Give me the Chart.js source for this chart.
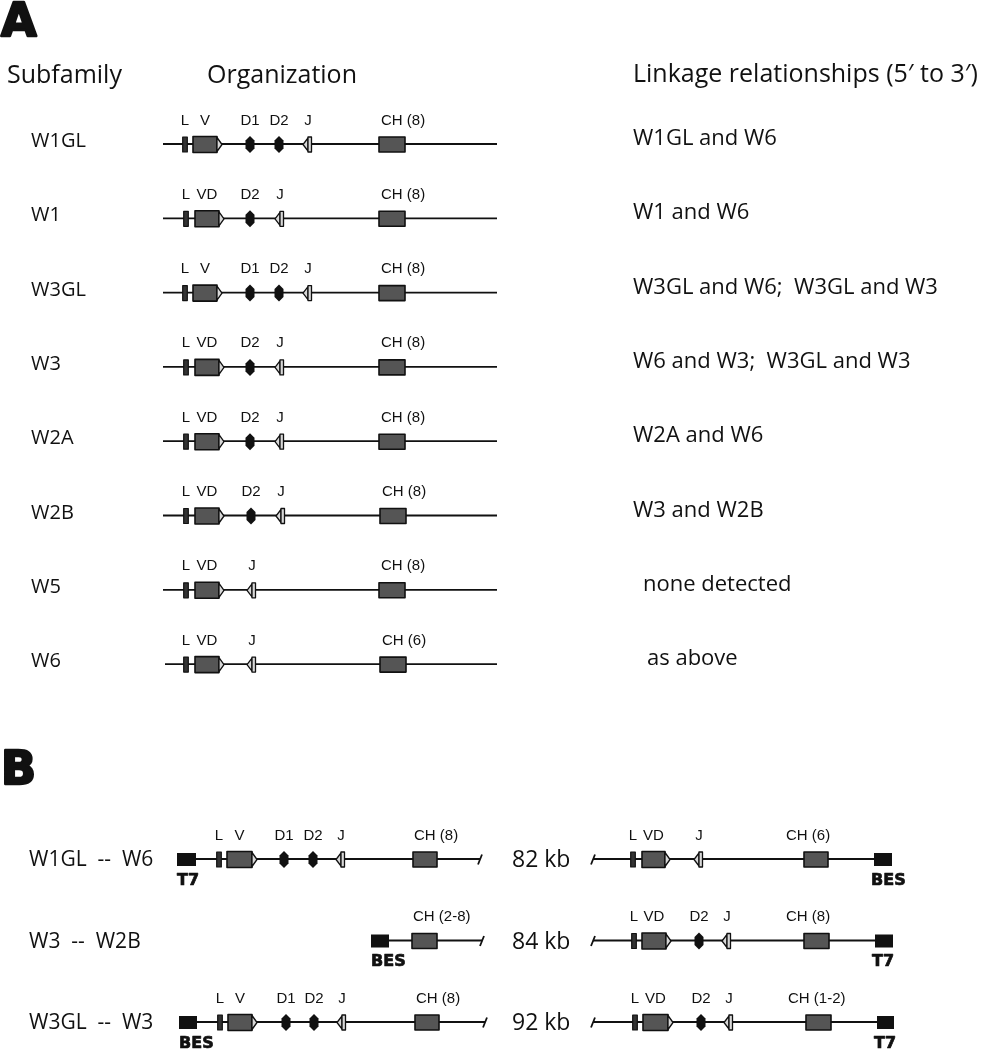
<!DOCTYPE html>
<html>
<head>
<meta charset="utf-8">
<script src="https://cdn.jsdelivr.net/npm/chart.js@4"></script>
<style>
  html, body { margin: 0; padding: 0; background: #fff; }
  canvas { display: block; }
</style>
</head>
<body>
<canvas id="chart" width="986" height="1050"></canvas>
<script>
// ---- Panel A data: one entry per subfamily ----
const subfamilies = ['W1GL', 'W1', 'W3GL', 'W3', 'W2A', 'W2B', 'W5', 'W6'];
const linkage = [
  'W1GL and W6',
  'W1 and W6',
  'W3GL and W6;  W3GL and W3',
  'W6 and W3;  W3GL and W3',
  'W2A and W6',
  'W3 and W2B',
  'none detected',
  'as above'
];
const vLabels = ['V', 'VD', 'V', 'VD', 'VD', 'VD', 'VD', 'VD'];
const chCopies = ['8', '8', '8', '8', '8', '8', '8', '6'];

// map positions along the locus (diagram units)
const locusStart = [163, 163, 163, 163, 163, 163, 163, 165];
const locusEnd = [497, 497, 497, 497, 497, 497, 497, 497];
const leaderPos = [185, 186, 185, 186, 186, 186, 186, 186];
const vStart = [193, 195, 193, 195, 195, 195, 195, 195];
const vEnd = [222, 224, 222, 224, 224, 224, 224, 224];
const d1Pos = [250, null, 250, null, null, null, null, null];
const d2Pos = [279, 250, 279, 250, 250, 251, null, null];
const jPos = [308, 280, 308, 280, 280, 281, 252, 252];
const chStart = [379, 379, 379, 379, 379, 380, 379, 380];
const chEnd = [405, 405, 405, 405, 405, 406, 405, 406];

// ---- Panel B data: BAC clones linking two subfamilies ----
const pairs = ['W1GL  --  W6', 'W3  --  W2B', 'W3GL  --  W3'];
const distances = ['82 kb', '84 kb', '92 kb'];
// [kind, start, end, label]
const leftLoci = [
  [['end', 177, 196, 'T7'], ['L', 219], ['V', 227, 257, 'V'], ['D', 284, 284, 'D1'], ['D', 313, 313, 'D2'],
   ['J', 341], ['CH', 413, 437, 'CH (8)'], ['break', 480]],
  [['end', 371, 389, 'BES'], ['CH', 412, 437, 'CH (2-8)'], ['break', 482]],
  [['end', 179, 197, 'BES'], ['L', 220], ['V', 228, 257, 'V'], ['D', 286, 286, 'D1'], ['D', 314, 314, 'D2'],
   ['J', 342], ['CH', 415, 439, 'CH (8)'], ['break', 485]]
];
const rightLoci = [
  [['break', 593], ['L', 633], ['V', 642, 670, 'VD'], ['J', 699], ['CH', 804, 828, 'CH (6)'], ['end', 874, 892, 'BES']],
  [['break', 593], ['L', 634], ['V', 642, 671, 'VD'], ['D', 699, 699, 'D2'], ['J', 727],
   ['CH', 804, 829, 'CH (8)'], ['end', 875, 893, 'T7']],
  [['break', 593], ['L', 635], ['V', 643, 673, 'VD'], ['D', 701, 701, 'D2'], ['J', 729],
   ['CH', 806, 831, 'CH (1-2)'], ['end', 877, 894, 'T7']]
];

// ---- styles ----
const INK = '#111';
const GREY = '#555';
const LIGHT = '#d8d8d8';
const HUMAN = '"Open Sans", "Noto Sans", sans-serif';
const SMALL = '"Liberation Sans", Arial, sans-serif';
const HEAVY = '"DejaVu Sans", sans-serif';

// backbone lines are ordinary line datasets
const datasets = [];
subfamilies.forEach((name, i) => {
  datasets.push({
    label: name,
    data: [{ x: locusStart[i], y: i }, { x: locusEnd[i], y: i }],
    xAxisID: 'x', yAxisID: 'yA',
    borderColor: INK, borderWidth: 1.8, pointRadius: 0
  });
});
function span(loc) {
  const xs = loc.map(f => f[0] === 'end' ? (f[1] + f[2]) / 2 : f[1]);
  return [Math.min(...xs), Math.max(...xs)];
}
pairs.forEach((name, i) => {
  [leftLoci[i], rightLoci[i]].forEach(loc => {
    const s = span(loc);
    datasets.push({
      label: name,
      data: [{ x: s[0], y: i }, { x: s[1], y: i }],
      xAxisID: 'x', yAxisID: 'yB',
      borderColor: INK, borderWidth: 1.8, pointRadius: 0
    });
  });
});

function text(ctx, str, x, y, font, align) {
  ctx.font = font;
  ctx.textAlign = align || 'left';
  ctx.textBaseline = 'alphabetic';
  ctx.fillStyle = INK;
  ctx.fillText(str, x, y);
}

function box(ctx, x0, x1, y, h, fill, lw) {
  ctx.fillStyle = fill;
  ctx.fillRect(x0, y - h / 2, x1 - x0, h);
  if (lw) {
    ctx.lineWidth = lw;
    ctx.strokeStyle = INK;
    ctx.strokeRect(x0, y - h / 2, x1 - x0, h);
  }
}

function drawLeader(ctx, x, y) {
  box(ctx, x - 2.3, x + 2.3, y, 15, '#333', 1.2);
}
function drawV(ctx, x0, x1, y) {
  const b = x1 - 5;
  box(ctx, x0, b, y, 16, GREY, 1.6);
  ctx.beginPath();
  ctx.moveTo(b, y - 7); ctx.lineTo(x1, y); ctx.lineTo(b, y + 7); ctx.closePath();
  ctx.fillStyle = LIGHT; ctx.fill();
  ctx.lineWidth = 1.3; ctx.strokeStyle = INK; ctx.stroke();
}
function drawD(ctx, x, y) {
  ctx.beginPath();
  ctx.moveTo(x, y - 8.5); ctx.lineTo(x + 4.5, y - 4); ctx.lineTo(x + 4.5, y + 4);
  ctx.lineTo(x, y + 8.5); ctx.lineTo(x - 4.5, y + 4); ctx.lineTo(x - 4.5, y - 4);
  ctx.closePath();
  ctx.fillStyle = INK; ctx.fill();
}
function drawJ(ctx, x, y) {
  ctx.beginPath();
  ctx.moveTo(x - 5, y); ctx.lineTo(x, y - 6.5); ctx.lineTo(x, y + 6.5); ctx.closePath();
  ctx.fillStyle = LIGHT; ctx.fill();
  ctx.lineWidth = 1.3; ctx.strokeStyle = INK; ctx.stroke();
  box(ctx, x, x + 3.5, y, 15, LIGHT, 1.3);
}
function drawBreak(ctx, x, y) {
  ctx.beginPath();
  ctx.moveTo(x - 2, y + 5); ctx.lineTo(x + 2, y - 5);
  ctx.lineWidth = 1.8; ctx.strokeStyle = INK; ctx.stroke();
}

const labelFont = '15px ' + SMALL;

function drawLocus(ctx, loc, px, y, chShift, side) {
  loc.forEach(f => {
    const [kind, a, b, lab] = f;
    if (kind === 'L') {
      drawLeader(ctx, px(a), y);
      text(ctx, 'L', px(a), y - 20, labelFont, 'center');
    } else if (kind === 'V') {
      drawV(ctx, px(a), px(b), y);
      text(ctx, lab, (px(a) + px(b) - 5) / 2, y - 20, labelFont, 'center');
    } else if (kind === 'D') {
      drawD(ctx, px(a), y);
      text(ctx, lab, px(a), y - 20, labelFont, 'center');
    } else if (kind === 'J') {
      drawJ(ctx, px(a), y);
      text(ctx, 'J', px(a), y - 20, labelFont, 'center');
    } else if (kind === 'CH') {
      box(ctx, px(a), px(b), y, 15, GREY, 1.6);
      text(ctx, lab, px(a) + chShift, y - 20, labelFont, 'left');
    } else if (kind === 'end') {
      box(ctx, px(a), px(b), y, 13, INK, 0);
      const lx = side === 'left' ? px(a) : px(a) - 3;
      ctx.font = 'bold 16px ' + HEAVY;
      ctx.textAlign = 'left';
      ctx.fillStyle = INK;
      ctx.strokeStyle = INK;
      ctx.lineWidth = 0.7;
      ctx.fillText(lab, lx, y + 25);
      ctx.strokeText(lab, lx, y + 25);
    } else if (kind === 'break') {
      drawBreak(ctx, px(a), y);
    }
  });
}

const diagram = {
  id: 'diagram',
  afterDatasetsDraw(chart) {
    const ctx = chart.ctx;
    const x = chart.scales.x;
    const px = v => x.getPixelForValue(v);
    const yA = chart.scales.yA;
    const yB = chart.scales.yB;
    ctx.save();

    // panel letters
    ctx.lineJoin = 'round';
    ['A', 'B'].forEach((L, k) => {
      const base = k === 0 ? 36 : 784;
      ctx.font = 'bold 46px ' + HEAVY;
      ctx.textAlign = 'left';
      ctx.fillStyle = INK;
      ctx.strokeStyle = INK;
      ctx.lineWidth = 2.4;
      ctx.fillText(L, 1, base);
      ctx.strokeText(L, 1, base);
    });

    // panel A headings
    text(ctx, 'Subfamily', 7, 83, '25px ' + HUMAN);
    text(ctx, 'Organization', 207, 83, '25px ' + HUMAN);
    text(ctx, 'Linkage relationships (5\u2032 to 3\u2032)', 633, 82, '25px ' + HUMAN);

    const linkIndent = [0, 0, 0, 0, 0, 0, 10, 14];
    subfamilies.forEach((name, i) => {
      const y = yA.getPixelForValue(i);
      text(ctx, name, 31, y + 3, '20px ' + HUMAN);
      text(ctx, linkage[i], 633 + linkIndent[i], y + 1, '22px ' + HUMAN);

      const loc = [['L', leaderPos[i]], ['V', vStart[i], vEnd[i], vLabels[i]]];
      if (d1Pos[i] !== null) loc.push(['D', d1Pos[i], d1Pos[i], 'D1']);
      if (d2Pos[i] !== null) loc.push(['D', d2Pos[i], d2Pos[i], 'D2']);
      loc.push(['J', jPos[i]]);
      loc.push(['CH', chStart[i], chEnd[i], 'CH (' + chCopies[i] + ')']);
      drawLocus(ctx, loc, px, y + 0.5, 2, 'left');
    });

    pairs.forEach((name, i) => {
      const y = yB.getPixelForValue(i);
      text(ctx, name, 29, y + 7, '21px ' + HUMAN);
      text(ctx, distances[i], 512, y + 8, '23px ' + HUMAN);
      drawLocus(ctx, leftLoci[i], px, y + 0.5, 1, 'left');
      drawLocus(ctx, rightLoci[i], px, y + 0.5, -18, 'right');
    });
    ctx.restore();
  }
};

// rows of panel A sit 74.3 px apart from y=144; panel B rows 81.5 px apart from y=859
const H = 1050;
const aTop = 144, aStep = 74.3, bTop = 859, bStep = 81.5;

new Chart(document.getElementById('chart').getContext('2d'), {
  type: 'line',
  data: { datasets },
  options: {
    responsive: false,
    animation: false,
    devicePixelRatio: 1,
    layout: { padding: 0 },
    scales: {
      x: { type: 'linear', min: 0, max: 986, display: false },
      yA: { type: 'linear', reverse: true, display: false,
            min: -aTop / aStep, max: (H - aTop) / aStep },
      yB: { type: 'linear', reverse: true, display: false,
            min: -bTop / bStep, max: (H - bTop) / bStep }
    },
    plugins: { legend: { display: false }, tooltip: { enabled: false } }
  },
  plugins: [diagram]
});
</script>
</body>
</html>
